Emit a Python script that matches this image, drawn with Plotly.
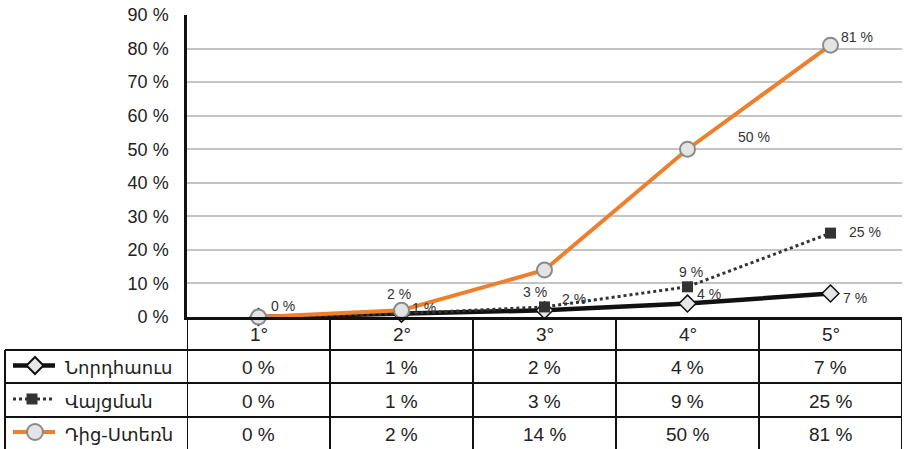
import plotly.graph_objects as go

# ---------------- data ----------------
categories = ["1°", "2°", "3°", "4°", "5°"]
series_names = ["Նորդհաուս", "Վայցման", "Դից-Ստեռն"]
nordhaus = [0, 1, 2, 4, 7]
weitzman = [0, 1, 3, 9, 25]
dietz_stern = [0, 2, 14, 50, 81]
y_ticks = [0, 10, 20, 30, 40, 50, 60, 70, 80, 90]
y_tick_labels = [f"{v} %" for v in y_ticks]

# ---------------- layout constants (pixels) ----------------
W, H = 905, 449
PLOT_L, PLOT_R, PLOT_T, PLOT_B = 187, 902, 15, 317
TABLE_LEFT = 5
ROW_EDGES = [317, 350, 383, 417, 449]   # header, row1, row2, row3
FONT = "Liberation Sans, Arial, DejaVu Sans, sans-serif"
ORANGE = "#EE7F2D"


def px(x):
    return x / W


def py(y):
    return 1 - y / H


xs = list(range(len(categories)))
fig = go.Figure()

line_styles = [
    dict(color="#111111", width=4.5),
    dict(color="#333333", width=3, dash="3px,3px"),
    dict(color=ORANGE, width=4),
]
marker_styles = [
    dict(symbol="diamond", size=13, color="#e6e6e6", line=dict(color="#111111", width=1.5)),
    dict(symbol="square", size=11, color="#333333", line=dict(color="#333333", width=0)),
    dict(symbol="circle", size=15, color="#e4e4e4", line=dict(color="#8a8a8a", width=2)),
]
all_series = [nordhaus, weitzman, dietz_stern]

for name, vals, ls, ms in zip(series_names, all_series, line_styles, marker_styles):
    fig.add_trace(go.Scatter(x=xs, y=vals, mode="lines+markers", name=name,
                             line=ls, marker=ms, cliponaxis=False, showlegend=False))

# data labels: (series index, point index, xshift, yshift)
label_spec = [
    (2, 0, 24, 11), (2, 1, -3, 16), (2, 3, 66, 12), (2, 4, 26, 8),
    (1, 1, 22, 6), (1, 2, -10, 15), (1, 3, 3, 15), (1, 4, 34, 1),
    (0, 2, 29, 11), (0, 3, 21, 10), (0, 4, 24, -4),
]
annotations = []
for si, pi, dx, dy in label_spec:
    v = all_series[si][pi]
    annotations.append(dict(x=xs[pi], y=v, xref="x", yref="y", text=f"{v} %",
                            showarrow=False, xshift=dx, yshift=dy,
                            xanchor="center", yanchor="middle",
                            font=dict(family=FONT, size=14, color="#333333")))

# ---------------- table ----------------
shapes = []
line_style = dict(color="#111111", width=2)
n = len(categories)
for k in range(n + 1):
    shapes.append(dict(type="line", xref="x", yref="paper", x0=k - 0.5, x1=k - 0.5,
                       y0=py(ROW_EDGES[0]), y1=py(ROW_EDGES[-1]), line=line_style))
shapes.append(dict(type="line", xref="paper", yref="paper", x0=px(TABLE_LEFT), x1=px(TABLE_LEFT),
                   y0=py(ROW_EDGES[1]), y1=py(ROW_EDGES[-1]), line=line_style))
for yy in ROW_EDGES[1:-1]:
    shapes.append(dict(type="line", xref="paper", yref="paper", x0=px(TABLE_LEFT), x1=px(PLOT_R),
                       y0=py(yy), y1=py(yy), line=line_style))


def row_center(r):
    return (ROW_EDGES[r] + ROW_EDGES[r + 1]) / 2


TEXT_DROP = 1
for i, c in enumerate(categories):
    annotations.append(dict(x=xs[i], y=py(row_center(0)), xref="x", yref="paper", text=c,
                            showarrow=False, yshift=-TEXT_DROP, xanchor="center", yanchor="middle",
                            font=dict(family=FONT, size=19, color="#222222")))
for r, vals in enumerate(all_series):
    for i, v in enumerate(vals):
        annotations.append(dict(x=xs[i], y=py(row_center(r + 1)), xref="x", yref="paper",
                                text=f"{v} %", showarrow=False, yshift=-TEXT_DROP,
                                xanchor="center", yanchor="middle",
                                font=dict(family=FONT, size=19, color="#222222")))
    annotations.append(dict(x=px(63), y=py(row_center(r + 1)), xref="paper", yref="paper",
                            text=series_names[r], showarrow=False, xanchor="left", yanchor="middle",
                            yshift=-TEXT_DROP,
                            font=dict(family="DejaVu Sans, sans-serif", size=18, color="#222222")))

# legend icons as shapes (pixel geometry converted to paper coords)
ICON_X0, ICON_X1, ICON_MID = 13, 55, 35
for r in range(3):
    yc = row_center(r + 1) - 1
    ls = line_styles[r]
    shapes.append(dict(type="line", xref="paper", yref="paper",
                       x0=px(ICON_X0), x1=px(ICON_X1), y0=py(yc), y1=py(yc),
                       line=dict(color=ls["color"], width=ls["width"], dash=ls.get("dash", "solid"))))
ms = marker_styles
rd = 8.5
yc = row_center(1) - 1
shapes.append(dict(type="path", xref="paper", yref="paper",
                   path=(f"M {px(ICON_MID - rd)} {py(yc)} L {px(ICON_MID)} {py(yc - rd)} "
                         f"L {px(ICON_MID + rd)} {py(yc)} L {px(ICON_MID)} {py(yc + rd)} Z"),
                   fillcolor=ms[0]["color"], line=dict(color="#111111", width=2)))
rs = 5.5
yc = row_center(2) - 1
shapes.append(dict(type="rect", xref="paper", yref="paper",
                   x0=px(ICON_MID - 3 - rs), x1=px(ICON_MID - 3 + rs), y0=py(yc - rs), y1=py(yc + rs),
                   fillcolor=ms[1]["color"], line=dict(width=0)))
rc = 8
yc = row_center(3) - 1
shapes.append(dict(type="circle", xref="paper", yref="paper",
                   x0=px(ICON_MID - rc), x1=px(ICON_MID + rc), y0=py(yc - rc), y1=py(yc + rc),
                   fillcolor=ms[2]["color"], line=dict(color="#8a8a8a", width=2)))

fig.update_layout(
    width=W, height=H,
    margin=dict(l=0, r=0, t=0, b=0, autoexpand=False),
    paper_bgcolor="white", plot_bgcolor="white",
    shapes=shapes, annotations=annotations,
    xaxis=dict(domain=[px(PLOT_L), px(PLOT_R)], range=[-0.5, n - 0.5], automargin=False,
               showticklabels=False, showgrid=False, zeroline=False,
               showline=True, linecolor="#111111", linewidth=2.5, fixedrange=True),
    yaxis=dict(domain=[py(PLOT_B), py(PLOT_T)], range=[0, 90], automargin=False,
               tickvals=y_ticks, ticktext=y_tick_labels, ticks="", ticklabelstandoff=12,
               tickfont=dict(family=FONT, size=18, color="#222222"),
               showgrid=True, gridcolor="#c4c4c4", gridwidth=2,
               zeroline=False, showline=True, linecolor="#111111", linewidth=2.5,
               fixedrange=True),
    showlegend=False,
)

fig.write_html("out.html")
